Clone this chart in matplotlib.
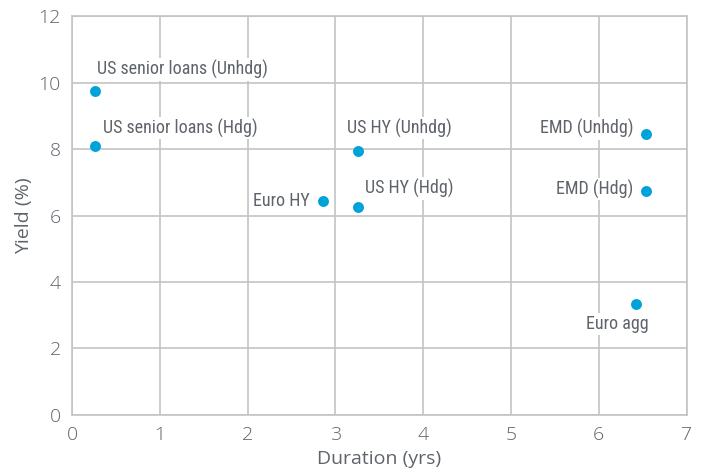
import matplotlib.pyplot as plt

names = ["US senior loans (Unhdg)", "US senior loans (Hdg)", "Euro HY", "US HY (Unhdg)",
         "US HY (Hdg)", "EMD (Unhdg)", "EMD (Hdg)", "Euro agg"]
duration = [0.26, 0.26, 2.86, 3.26, 3.26, 6.54, 6.54, 6.42]
yld = [9.75, 8.09, 6.45, 7.94, 6.25, 8.44, 6.74, 3.34]

# label offsets in pixels and alignment
offsets = [(2, 21, 'left'), (8, 18, 'left'), (-13, 0, 'right'), (-11, 23, 'left'),
           (7, 19, 'left'), (-13, 6, 'right'), (-13, 2, 'right'), (-18, -20, 'center')]

grey = '#5f646b'
gridc = '#c4c4c4'

fig = plt.figure(figsize=(7.02, 4.72), dpi=100)
ax = fig.add_axes([0.1026, 0.1208, 0.8754, 0.8452])

ax.scatter(duration, yld, s=62, color='#00a3d8', zorder=3, linewidths=0)

for n, x, y, (dx, dy, ha) in zip(names, duration, yld, offsets):
    ax.annotate(n, (x, y), xytext=(dx, dy), textcoords='offset pixels',
                ha=ha, va='center', fontsize=13, color=grey,
                family=['Liberation Sans Narrow', 'Roboto Condensed', 'Roboto', 'DejaVu Sans'],
                bbox=dict(boxstyle='square,pad=0.1', fc='white', ec='none'), zorder=4)

ax.set_xlim(0, 7)
ax.set_ylim(0, 12)
ax.set_xticks(range(0, 8))
ax.set_yticks(range(0, 13, 2))
ax.grid(True, color=gridc, linewidth=1.2)
ax.set_axisbelow(True)
for s in ax.spines.values():
    s.set_color(gridc)
    s.set_linewidth(1.2)
ax.tick_params(length=0, labelsize=14, colors=grey, pad=8)
for lab in ax.get_xticklabels() + ax.get_yticklabels():
    lab.set_family('Open Sans')
    lab.set_fontweight('light')

ax.set_xlabel('Duration (yrs)', fontsize=14, color=grey, family='Open Sans', labelpad=4)
ax.set_ylabel('Yield (%)', fontsize=14, color=grey, family='Open Sans', labelpad=4)

plt.savefig('out.png', dpi=100)
